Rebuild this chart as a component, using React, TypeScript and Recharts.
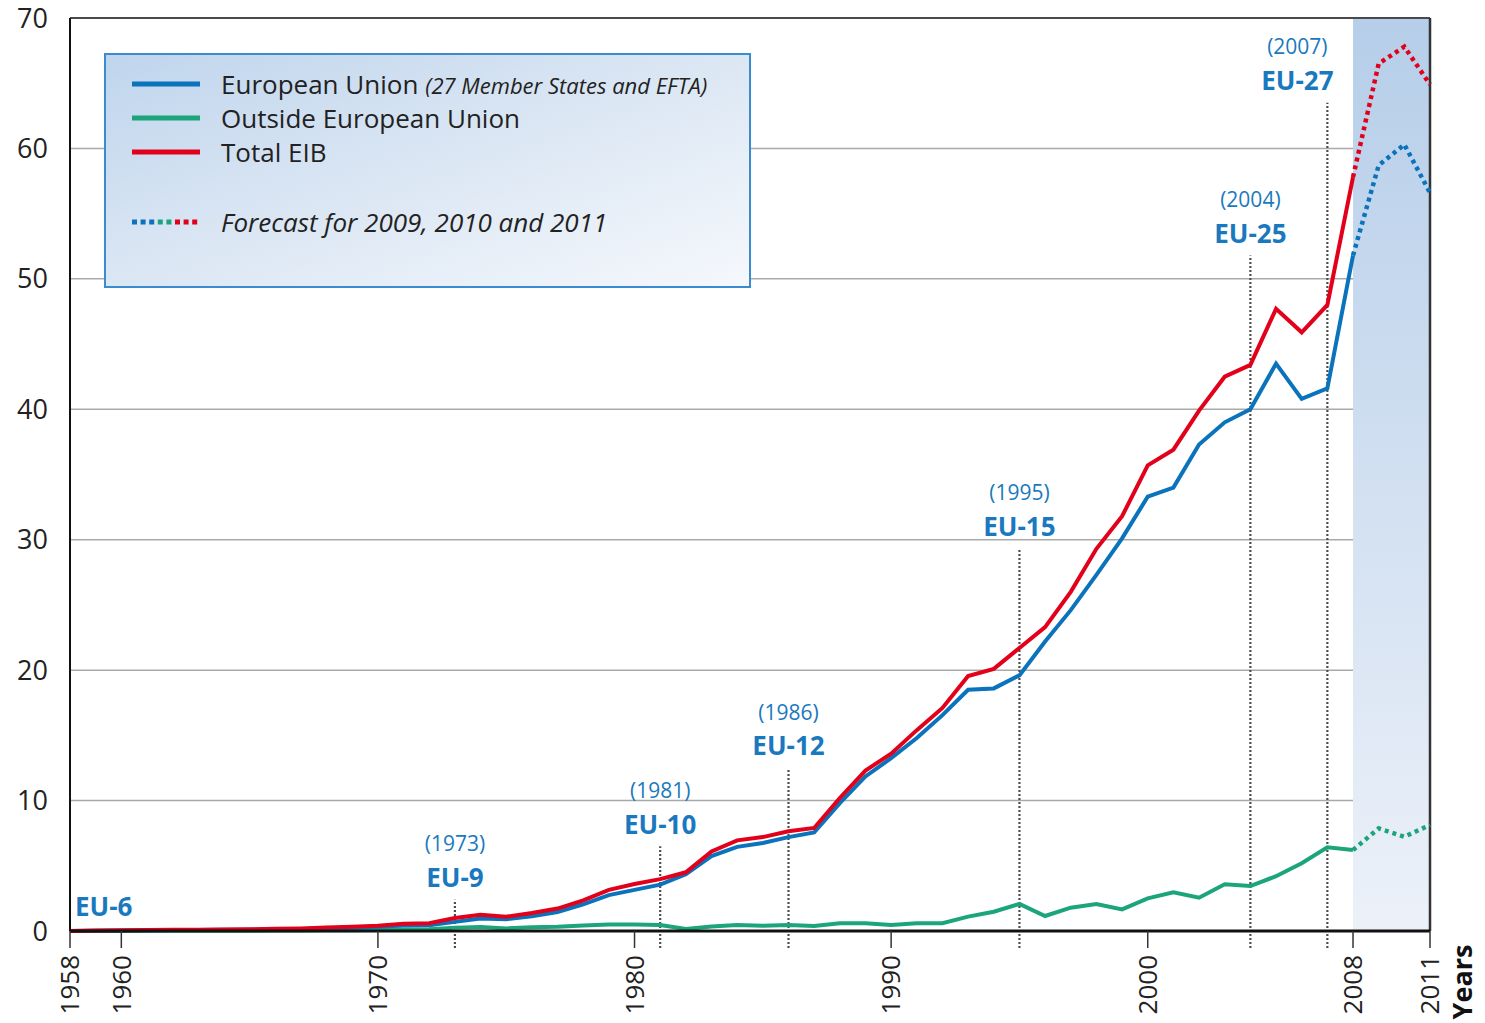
import {
  CartesianGrid,
  Legend,
  Line,
  LineChart,
  ReferenceArea,
  ReferenceLine,
  XAxis,
  YAxis,
} from "recharts";

const FONT = "'Open Sans', 'Noto Sans', sans-serif";
const BLUE = "#0a73bb";
const GREEN = "#1ca57b";
const RED = "#e2001a";
const LABEL_BLUE = "#1a79be";

const years = [
  1958, 1959, 1960, 1961, 1962, 1963, 1964, 1965, 1966, 1967, 1968, 1969, 1970, 1971,
  1972, 1973, 1974, 1975, 1976, 1977, 1978, 1979, 1980, 1981, 1982, 1983, 1984, 1985,
  1986, 1987, 1988, 1989, 1990, 1991, 1992, 1993, 1994, 1995, 1996, 1997, 1998, 1999,
  2000, 2001, 2002, 2003, 2004, 2005, 2006, 2007, 2008, 2009, 2010, 2011,
];

// signatures in EUR bn, 1958-2008
const euActual = [
  0.0, 0.02, 0.04, 0.06, 0.07, 0.08, 0.1, 0.1, 0.13, 0.15, 0.2, 0.25, 0.32, 0.42, 0.45,
  0.7, 0.95, 0.9, 1.12, 1.45, 2.05, 2.75, 3.15, 3.55, 4.35, 5.75, 6.45, 6.75, 7.2, 7.55,
  9.8, 11.85, 13.25, 14.8, 16.55, 18.5, 18.6, 19.6, 22.2, 24.6, 27.3, 30.1, 33.3, 34.0,
  37.3, 39.0, 40.0, 43.5, 40.8, 41.6, 51.8,
];
const outsideActual = [
  0, 0, 0, 0.01, 0.01, 0.02, 0.02, 0.02, 0.03, 0.04, 0.05, 0.06, 0.08, 0.12, 0.14, 0.25,
  0.3, 0.2, 0.28, 0.32, 0.42, 0.5, 0.5, 0.46, 0.15, 0.35, 0.46, 0.4, 0.46, 0.38, 0.6, 0.6,
  0.46, 0.59, 0.6, 1.1, 1.48, 2.07, 1.15, 1.79, 2.07, 1.66, 2.5, 2.97, 2.55, 3.58, 3.45,
  4.2, 5.19, 6.42, 6.21,
];
const totalActual = [
  0.0, 0.03, 0.05, 0.08, 0.09, 0.1, 0.12, 0.13, 0.17, 0.2, 0.26, 0.32, 0.4, 0.55, 0.6,
  1.0, 1.25, 1.1, 1.38, 1.72, 2.35, 3.15, 3.6, 3.98, 4.5, 6.1, 6.95, 7.2, 7.65, 7.9,
  10.2, 12.3, 13.6, 15.4, 17.1, 19.55, 20.1, 21.7, 23.3, 26.0, 29.3, 31.8, 35.7, 36.9,
  39.9, 42.5, 43.4, 47.7, 45.9, 48.0, 57.8,
];

// forecast 2008 (link point) to 2011
const forecastYears = [2008, 2009, 2010, 2011];
const euForecast = [51.8, 58.7, 60.3, 56.6];
const outsideForecast = [6.21, 7.87, 7.23, 8.13];
const totalForecast = [57.8, 66.5, 67.8, 64.9];

const yTicks = [0, 10, 20, 30, 40, 50, 60, 70];
const xTicks = [1958, 1960, 1970, 1980, 1990, 2000, 2008, 2011];

const enlargements = [
  { year: 1958, name: "EU-6", top: 0 },
  { year: 1973, name: "EU-9", top: 2.4 },
  { year: 1981, name: "EU-10", top: 6.5 },
  { year: 1986, name: "EU-12", top: 12.5 },
  { year: 1995, name: "EU-15", top: 29.3 },
  { year: 2004, name: "EU-25", top: 51.8 },
  { year: 2007, name: "EU-27", top: 63.5 },
];

const data = years.map((year, i) => {
  const f = forecastYears.indexOf(year);
  return {
    year,
    eu: i < euActual.length ? euActual[i] : null,
    outside: i < outsideActual.length ? outsideActual[i] : null,
    total: i < totalActual.length ? totalActual[i] : null,
    euF: f >= 0 ? euForecast[f] : null,
    outsideF: f >= 0 ? outsideForecast[f] : null,
    totalF: f >= 0 ? totalForecast[f] : null,
  };
});

function YearTick({ x, y, payload }: any) {
  return (
    <text
      x={x}
      y={y}
      transform={`rotate(-90 ${x} ${y})`}
      textAnchor="end"
      dy="0.36em"
      fontFamily={FONT}
      fontSize={26}
      fill="#222"
    >
      {payload.value}
    </text>
  );
}

function enlargementLabel(e: { year: number; name: string }) {
  return (props: any) => {
    const vb = props.viewBox || {};
    const top = vb.y;
    if (e.year === 1958) {
      return (
        <text x={vb.x + 5} y={top - 24} dy="0.36em" fontFamily={FONT} fontWeight={700} fontSize={26} fill={LABEL_BLUE}>
          {e.name}
        </text>
      );
    }
    const cx = vb.x + (e.year === 2007 ? -30 : 0);
    return (
      <g>
        <text x={cx} y={top - 56} dy="0.36em" textAnchor="middle" fontFamily={FONT} fontSize={21} fill={LABEL_BLUE}>
          ({e.year})
        </text>
        <text x={cx} y={top - 22} dy="0.36em" textAnchor="middle" fontFamily={FONT} fontWeight={700} fontSize={26} fill={LABEL_BLUE}>
          {e.name}
        </text>
      </g>
    );
  };
}

function Sample({ color, dotted }: { color?: string; dotted?: boolean }) {
  return (
    <svg width={72} height={10} style={{ position: "absolute", left: 24, top: 12 }}>
      {dotted ? (
        [BLUE, BLUE, BLUE, GREEN, GREEN, RED, RED, RED].map((c, i) => (
          <rect key={i} x={2 + i * 8.6} y={2.5} width={5} height={5} fill={c} />
        ))
      ) : (
        <line x1={2} x2={70} y1={5} y2={5} stroke={color} strokeWidth={5} />
      )}
    </svg>
  );
}

function LegendBox() {
  const row = (top: number) => ({
    position: "absolute" as const,
    left: 0,
    top,
    height: 34,
    width: 640,
  });
  const text = {
    position: "absolute" as const,
    left: 115,
    top: 0,
    lineHeight: "34px",
    whiteSpace: "nowrap" as const,
    fontSize: 26,
    color: "#222",
  };
  return (
    <div
      style={{
        width: 647,
        height: 235,
        boxSizing: "border-box",
        border: "2px solid #3a8bd0",
        background: "linear-gradient(160deg, #bfd5ed 0%, #d9e5f3 45%, #f5f8fc 100%)",
        position: "relative",
        fontFamily: FONT,
      }}
    >
      <div style={row(12)}>
        <Sample color={BLUE} />
        <div style={text}>
          European Union{" "}
          <span style={{ fontStyle: "italic", fontSize: 22 }}>(27 Member States and EFTA)</span>
        </div>
      </div>
      <div style={row(46)}>
        <Sample color={GREEN} />
        <div style={text}>Outside European Union</div>
      </div>
      <div style={row(80)}>
        <Sample color={RED} />
        <div style={text}>Total EIB</div>
      </div>
      <div style={row(150)}>
        <Sample dotted />
        <div style={{ ...text, fontStyle: "italic", fontSize: 26 }}>
          Forecast for 2009, 2010 and 2011
        </div>
      </div>
    </div>
  );
}

export default function App() {
  return (
    <div style={{ marginTop: -8, marginLeft: -8, width: 1485, height: 1023 }}>
      <LineChart
        width={1485}
        height={1023}
        data={data}
        margin={{ top: 18, right: 55, bottom: 12, left: 8 }}
      >
        <defs>
          <linearGradient id="forecastFill" x1="0" x2="0" y1="0" y2="1">
            <stop offset="0%" stopColor="#b6cee9" />
            <stop offset="100%" stopColor="#ecf1f9" />
          </linearGradient>
        </defs>
        <CartesianGrid vertical={false} stroke="#a9a9a9" strokeWidth={1.5} />
        <ReferenceArea
          x1={2008}
          x2={2011}
          y1={0}
          y2={70}
          fill="url(#forecastFill)"
          fillOpacity={1}
          stroke="none"
        />
        <XAxis
          dataKey="year"
          type="number"
          domain={[1958, 2011]}
          ticks={xTicks}
          interval={0}
          height={80}
          tick={<YearTick />}
          tickSize={17}
          tickMargin={7}
          tickLine={{ stroke: "#333", strokeWidth: 1.5 }}
          axisLine={{ stroke: "#111", strokeWidth: 3 }}
          label={{
            value: "Years",
            content: (p: any) => {
              const vb = p.viewBox;
              const x = vb.x + vb.width + 32;
              const y = vb.y + 51;
              return (
                <text
                  x={x}
                  y={y}
                  transform={`rotate(-90 ${x} ${y})`}
                  textAnchor="middle"
                  dy="0.36em"
                  fontFamily={FONT}
                  fontWeight={700}
                  fontSize={27}
                  fill="#111"
                >
                  Years
                </text>
              );
            },
          }}
        />
        <YAxis
          type="number"
          domain={[0, 70]}
          ticks={yTicks}
          interval={0}
          width={62}
          tickSize={0}
          tickMargin={22}
          tickLine={false}
          axisLine={{ stroke: "#111", strokeWidth: 2 }}
          tick={{ fontFamily: FONT, fontSize: 27, fill: "#222" }}
        />
        <ReferenceLine y={70} stroke="#222" strokeWidth={1.5} />
        <ReferenceLine x={2011} stroke="#333" strokeWidth={2.5} />
        {enlargements.map((e) => (
          <ReferenceLine
            key={e.name}
            segment={[
              { x: e.year, y: e.year === 1958 ? 0 : -1.3 },
              { x: e.year, y: e.top },
            ]}
            ifOverflow="visible"
            stroke={e.year === 1958 ? "none" : "#4d4d4d"}
            strokeWidth={2.2}
            strokeDasharray="2 2"
            label={{ content: enlargementLabel(e) }}
          />
        ))}
        <Line type="linear" dataKey="outside" stroke={GREEN} strokeWidth={4} dot={false} isAnimationActive={false} />
        <Line type="linear" dataKey="eu" stroke={BLUE} strokeWidth={4} dot={false} isAnimationActive={false} />
        <Line type="linear" dataKey="total" stroke={RED} strokeWidth={4} dot={false} isAnimationActive={false} />
        <Line type="linear" dataKey="outsideF" stroke={GREEN} strokeWidth={4.5} strokeDasharray="4 4" dot={false} isAnimationActive={false} />
        <Line type="linear" dataKey="euF" stroke={BLUE} strokeWidth={4.5} strokeDasharray="4 4" dot={false} isAnimationActive={false} />
        <Line type="linear" dataKey="totalF" stroke={RED} strokeWidth={4.5} strokeDasharray="4 4" dot={false} isAnimationActive={false} />
        <Legend
          layout="vertical"
          align="center"
          verticalAlign="middle"
          content={() => <LegendBox />}
          wrapperStyle={{ position: "absolute", left: 104, top: 53, width: 647, height: 235 }}
        />
      </LineChart>
    </div>
  );
}
